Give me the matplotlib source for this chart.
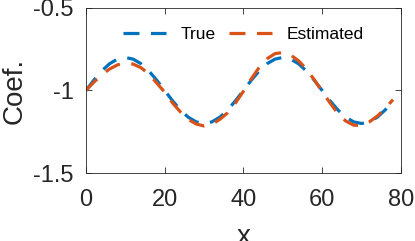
import matplotlib
matplotlib.use('Agg')
import matplotlib.pyplot as plt

# values
x = list(range(0, 80, 2))
y_true = [-1.0, -0.938, -0.882, -0.838, -0.810, -0.80, -0.810, -0.838, -0.882, -0.938,
          -1.0, -1.062, -1.118, -1.162, -1.190, -1.20, -1.190, -1.162, -1.118, -1.062,
          -1.0, -0.938, -0.882, -0.838, -0.810, -0.80, -0.810, -0.838, -0.882, -0.938,
          -1.0, -1.062, -1.118, -1.162, -1.190, -1.20, -1.190, -1.162, -1.118, -1.062]
y_est = [-1.0, -0.95, -0.905, -0.87, -0.845, -0.835, -0.84, -0.862, -0.90, -0.955,
         -1.01, -1.075, -1.13, -1.175, -1.203, -1.215, -1.205, -1.175, -1.135, -1.075,
         -1.005, -0.93, -0.86, -0.808, -0.777, -0.77, -0.785, -0.82, -0.87, -0.935,
         -1.005, -1.075, -1.14, -1.185, -1.21, -1.212, -1.19, -1.155, -1.11, -1.055]
series = ['True', 'Estimated']
xticks = [0, 20, 40, 60, 80]
yticks = [-1.5, -1, -0.5]
ytick_labels = ['-1.5', '-1', '-0.5']

plt.rcParams['font.family'] = ['Liberation Sans', 'DejaVu Sans']
fig = plt.figure(figsize=(4.15, 2.41), dpi=100)
ax = fig.add_axes([0.207, 0.282, 0.759, 0.685])

ax.plot(x, y_true, color='#0072BD', lw=2.3, dashes=(5.0, 3.6), label=series[0])
ax.plot(x, y_est, color='#D95319', lw=2.3, dashes=(5.0, 3.6), label=series[1])

ax.set_xlim(0, 80)
ax.set_ylim(-1.5, -0.5)
ax.set_xticks(xticks)
ax.set_yticks(yticks)
ax.set_yticklabels(ytick_labels)
ax.tick_params(direction='in', length=4, width=0.6, top=True, right=True,
               labelsize=17, colors='#262626')
ax.tick_params(axis='x', pad=11.5)
ax.tick_params(axis='y', pad=9)
for s in ax.spines.values():
    s.set_color('#262626')
    s.set_linewidth(0.6)

ax.set_xlabel('x', fontsize=20, color='#262626', labelpad=9)
ax.set_ylabel('Coef.', fontsize=20, color='#262626', labelpad=4)

ax.legend(loc='upper center', ncol=2, frameon=False, fontsize=12.5,
          handlelength=2.5, handletextpad=0.85, columnspacing=0.75,
          bbox_to_anchor=(0.5, 0.98))

fig.savefig('out.png', dpi=100)
